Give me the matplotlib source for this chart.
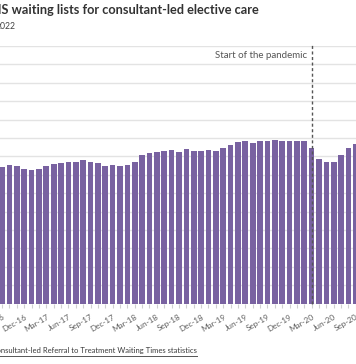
import matplotlib
matplotlib.use("Agg")
import matplotlib.pyplot as plt
from matplotlib.lines import Line2D

# ---------------- data ----------------
months = ["Sep-16", "Oct-16", "Nov-16", "Dec-16", "Jan-17", "Feb-17", "Mar-17", "Apr-17",
          "May-17", "Jun-17", "Jul-17", "Aug-17", "Sep-17", "Oct-17", "Nov-17", "Dec-17",
          "Jan-18", "Feb-18", "Mar-18", "Apr-18", "May-18", "Jun-18", "Jul-18", "Aug-18",
          "Sep-18", "Oct-18", "Nov-18", "Dec-18", "Jan-19", "Feb-19", "Mar-19", "Apr-19",
          "May-19", "Jun-19", "Jul-19", "Aug-19", "Sep-19", "Oct-19", "Nov-19", "Dec-19",
          "Jan-20", "Feb-20", "Mar-20", "Apr-20", "May-20", "Jun-20", "Jul-20", "Aug-20",
          "Sep-20"]
waiting_millions = [3.71, 3.76, 3.73, 3.65, 3.63, 3.66, 3.74, 3.79,
                    3.82, 3.85, 3.86, 3.90, 3.85, 3.81, 3.73, 3.77,
                    3.74, 3.77, 3.85, 4.04, 4.09, 4.12, 4.14, 4.16,
                    4.13, 4.19, 4.15, 4.15, 4.17, 4.14, 4.23, 4.31,
                    4.39, 4.41, 4.37, 4.42, 4.43, 4.44, 4.42, 4.42,
                    4.42, 4.43, 4.24, 3.94, 3.85, 3.86, 4.05, 4.22,
                    4.34]
label_every = 3
pandemic_month = "Mar-20"
title = "NHS waiting lists for consultant-led elective care"
subtitle = "2022"
annotation = "Start of the pandemic"
source = "Source: NHS England, Consultant-led Referral to Treatment Waiting Times statistics"

# ---------------- figure ----------------
W, H = 356, 364
fig = plt.figure(figsize=(W / 100, H / 100), dpi=100)
plt.rcParams["font.family"] = ["Lato", "DejaVu Sans"]
renderer = fig.canvas.get_renderer()


def fit_size(text, target_px, weight="normal"):
    t = fig.text(0, 0, text, fontsize=10, fontweight=weight)
    w = t.get_window_extent(renderer).width
    t.remove()
    return 10 * target_px / w


def px(x, y):
    return x / W, (H - y) / H


bar_color = "#7962a1"
ax = fig.add_axes([0, (H - 303.5) / H, 1, (303.5 - 46) / H])
x = list(range(len(months)))
ax.bar(x, waiting_millions, width=0.77, color=bar_color, zorder=2)
ax.set_ylim(0, 7)
ax.set_yticks([i * 0.5 for i in range(15)])
ax.yaxis.grid(True, color="#e3e3e3", linewidth=1, zorder=0)
ax.tick_params(axis="y", left=False, labelleft=False)
x0 = -2.1 / 7.37
ax.set_xlim(x0, x0 + W / 7.37)
for s in ax.spines.values():
    s.set_visible(False)

tick_fs = fit_size("Dec-16", 27)
ax.set_xticks(x)
ax.set_xticklabels([m if i % label_every == 0 else "" for i, m in enumerate(months)],
                   rotation=30, ha="right", va="top", rotation_mode="anchor",
                   fontsize=tick_fs, color="#5e5e5e")
ax.tick_params(axis="x", length=3, width=0.8, color="#d0d0d0", pad=4)

# pandemic marker
pi = months.index(pandemic_month)
ax.axvline(pi, ymin=0, ymax=1.005, color="#555555", linewidth=1,
           linestyle=(0, (2.2, 1.8)), zorder=4, clip_on=False)
ann_fs = fit_size(annotation, 93)
fig.text(*px(307.5, 58.5), annotation, fontsize=ann_fs, color="#555555",
         ha="right", va="baseline")

# title / subtitle
title_fs = fit_size("S waiting lists for consultant-led elective care", 258.5, "bold")
fig.text(*px(259, 14.5), title, fontsize=title_fs, fontweight="bold",
         color="#333333", ha="right", va="baseline")
sub_fs = fit_size("022", 15)
fig.text(*px(15.5, 29), subtitle, fontsize=sub_fs, color="#444444",
         ha="right", va="baseline")

# source
src_fs = fit_size("nsultant-led Referral to Treatment Waiting Times statistics", 197)
st = fig.text(*px(197, 353), source, fontsize=src_fs, color="#3a3a3a",
              ha="right", va="baseline")
bb = st.get_window_extent(renderer)
uy = (H - 355.5) / H
fig.add_artist(Line2D([bb.x0 / W, bb.x1 / W], [uy, uy], color="#555555",
                      linewidth=0.7, transform=fig.transFigure))

fig.savefig("out.png", dpi=100)
